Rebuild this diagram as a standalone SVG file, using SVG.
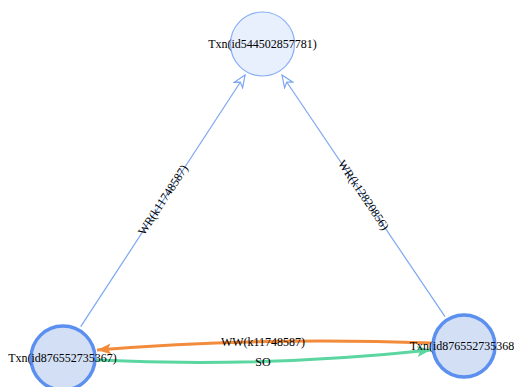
<svg xmlns="http://www.w3.org/2000/svg" width="514" height="387" viewBox="0 0 514 387">
<style>
  .lbl { font-family: "Liberation Serif", "Times New Roman", serif; font-size: 12px; fill: #000; text-anchor: middle; dominant-baseline: central; }
  .wr { fill: none; stroke: #7ba7f2; stroke-width: 1.2; }
  .ww { fill: none; stroke: #f28c3c; stroke-width: 3; }
  .so { fill: none; stroke: #5cd6a0; stroke-width: 3; }
  .n1 { fill: #e8f0fe; stroke: #8ab0f5; stroke-width: 1.2; }
  .n2 { fill: #d2dff5; stroke: #5b8ff0; stroke-width: 3.5; }
</style>
<defs>
  <marker id="vee" markerUnits="userSpaceOnUse" markerWidth="16" markerHeight="14" refX="13" refY="6" orient="auto" viewBox="0 0 16 12">
    <path d="M13,6 L1,1 L4.5,6 L1,11 Z" fill="#ffffff" stroke="#7ba7f2" stroke-width="1.2" stroke-linejoin="miter"/>
  </marker>
  <marker id="arrO" markerUnits="userSpaceOnUse" markerWidth="16" markerHeight="14" refX="14" refY="6" orient="auto" viewBox="0 0 16 12">
    <path d="M14,6 L0,0.5 L3,6 L0,11.5 Z" fill="#f28c3c"/>
  </marker>
  <marker id="arrG" markerUnits="userSpaceOnUse" markerWidth="16" markerHeight="14" refX="14" refY="6" orient="auto" viewBox="0 0 16 12">
    <path d="M14,6 L0,0.5 L3,6 L0,11.5 Z" fill="#5cd6a0"/>
  </marker>
</defs>
<g id="edges">
  <path class="wr" d="M80.7,326.7 L245,75" marker-end="url(#vee)"/>
  <path class="wr" d="M445,316.7 L282,75" marker-end="url(#vee)"/>
  <path class="ww" d="M431,343 Q262,336.5 97,350" marker-end="url(#arrO)"/>
  <path class="so" d="M96,360 Q262.5,368 431,350" marker-end="url(#arrG)"/>
  <text class="lbl" transform="translate(163,200) rotate(-57)">WR(k11748587)</text>
  <text class="lbl" transform="translate(363.5,195) rotate(56.1)">WR(k12820856)</text>
  <text class="lbl" x="263" y="341.5">WW(k11748587)</text>
  <text class="lbl" x="263" y="361.5">SO</text>
</g>
<g id="node-top">
  <circle class="n1" cx="262.5" cy="44" r="32"/>
  <text class="lbl" x="262.5" y="44">Txn(id544502857781)</text>
</g>
<g id="node-left">
  <circle class="n2" cx="63" cy="358" r="32"/>
  <text class="lbl" x="62.5" y="358">Txn(id876552735367)</text>
</g>
<g id="node-right">
  <circle class="n2" cx="464" cy="346" r="31"/>
  <text class="lbl" x="464" y="346">Txn(id876552735368)</text>
</g>
</svg>
